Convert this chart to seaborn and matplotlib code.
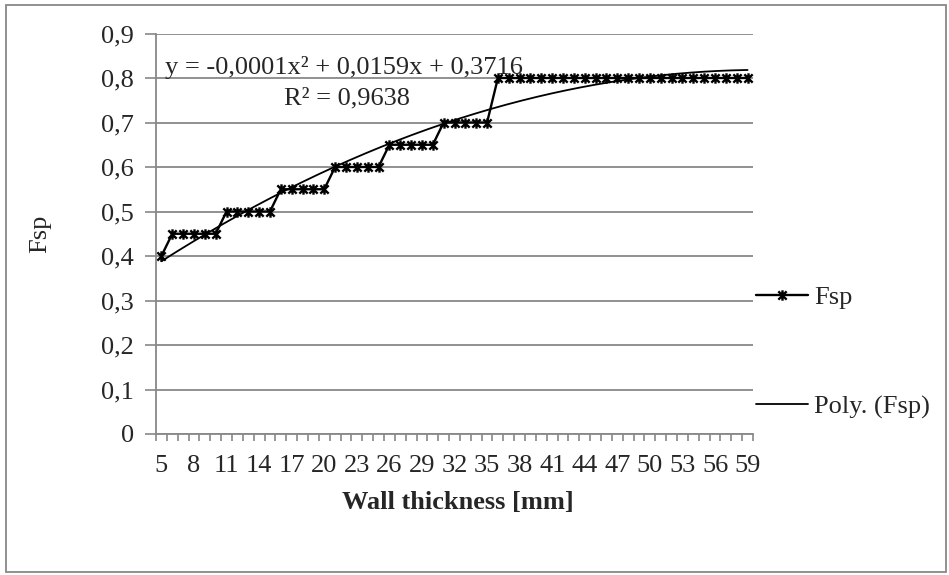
import numpy as np
import pandas as pd
import seaborn as sns
import matplotlib
matplotlib.use("Agg")
import matplotlib.pyplot as plt
from matplotlib.path import Path
from matplotlib.patches import Rectangle
from matplotlib.ticker import FixedLocator, FixedFormatter

# Wall thickness categories [mm] and the corresponding Fsp factor
wall_thickness = list(range(5, 60))
fsp = ([0.40] + [0.45] * 5 + [0.50] * 5 + [0.55] * 5 + [0.60] * 5
       + [0.65] * 5 + [0.70] * 5 + [0.80] * 24)

y_ticks = [0, 0.1, 0.2, 0.3, 0.4, 0.5, 0.6, 0.7, 0.8, 0.9]
y_tick_labels = ["0", "0,1", "0,2", "0,3", "0,4", "0,5", "0,6", "0,7", "0,8", "0,9"]
x_tick_labels = [str(v) for v in wall_thickness[::3]]

equation_text = "y = -0,0001x\u00b2 + 0,0159x + 0,3716"
r2_text = "R\u00b2 = 0,9638"

sns.set_theme(style="white")
plt.rcParams["font.family"] = ["Liberation Serif", "DejaVu Serif"]
FS = 19
GRID = "#888888"

pos = np.arange(len(wall_thickness))
df = pd.DataFrame({"pos": pos, "fsp": fsp})

# second-order polynomial trendline on the category index (1..N)
coef = np.polyfit(pos + 1, df["fsp"].to_numpy(), 2)
xs = np.linspace(0, len(pos) - 1, 300)
trend = pd.DataFrame({"pos": xs, "fit": np.polyval(coef, xs + 1)})

fig = plt.figure(figsize=(9.49, 5.75), dpi=100)
ax = fig.add_axes([156 / 949, 141 / 575, 597 / 949, 400.5 / 575])

# star marker: a cross with a vertical stroke
star = Path([(0, -1), (0, 1), (-0.8, -0.8), (0.8, 0.8), (-0.8, 0.8), (0.8, -0.8)],
            [Path.MOVETO, Path.LINETO] * 3)

sns.lineplot(data=df, x="pos", y="fsp", ax=ax, color="black", linewidth=1.7,
             marker=star, markersize=7.5, markeredgewidth=1.7,
             markeredgecolor="black", label="Fsp")
sns.lineplot(data=trend, x="pos", y="fit", ax=ax, color="black",
             linewidth=1.3, label="Poly. (Fsp)")

ax.set_xlim(-0.5, len(pos) - 0.5)
ax.set_ylim(0, 0.9)

ax.set_yticks(y_ticks)
ax.set_yticklabels(y_tick_labels, fontsize=FS)
ax.yaxis.grid(True, color=GRID, linewidth=1.3)
ax.set_axisbelow(True)

ax.xaxis.set_major_locator(FixedLocator(pos[::3]))
ax.xaxis.set_major_formatter(FixedFormatter(x_tick_labels))
ax.xaxis.set_minor_locator(FixedLocator(np.arange(-0.5, len(pos), 1.0)))
ax.tick_params(axis="x", which="major", length=0, pad=15, labelsize=FS)
ax.tick_params(axis="x", which="minor", length=5, width=1.2, color=GRID,
               direction="out", bottom=True)
ax.tick_params(axis="y", which="major", length=8, width=1.2, color=GRID,
               direction="out", left=True, pad=8, labelsize=FS)

for side in ("top", "right"):
    ax.spines[side].set_visible(False)
for side in ("left", "bottom"):
    ax.spines[side].set_color(GRID)
    ax.spines[side].set_linewidth(1.3)

ax.set_xlabel("Wall thickness [mm]", fontsize=FS, fontweight="bold")
ax.xaxis.set_label_coords(0.506, -0.17)
ax.xaxis.label.set_va("center")
ax.set_ylabel("Fsp", fontsize=FS)
ax.yaxis.set_label_coords(-0.194, 0.5)
ax.yaxis.label.set_va("center")

ax.text(0.015, 0.916, equation_text, transform=ax.transAxes, fontsize=FS,
        ha="left", va="center")
ax.text(0.32, 0.838, r2_text, transform=ax.transAxes, fontsize=FS,
        ha="center", va="center")

ax.legend(loc="upper left", bbox_to_anchor=(756 / 949, (575 - 286) / 575),
          bbox_transform=fig.transFigure, frameon=False, fontsize=FS,
          borderpad=0, borderaxespad=0, handlelength=1.97,
          handletextpad=0.22, labelspacing=3.23, numpoints=1)

fig.add_artist(Rectangle((5.5 / 949, 3 / 575), 940 / 949, 567.5 / 575,
                         transform=fig.transFigure, fill=False,
                         edgecolor=GRID, linewidth=1.3))

fig.savefig("out.png", dpi=100)
